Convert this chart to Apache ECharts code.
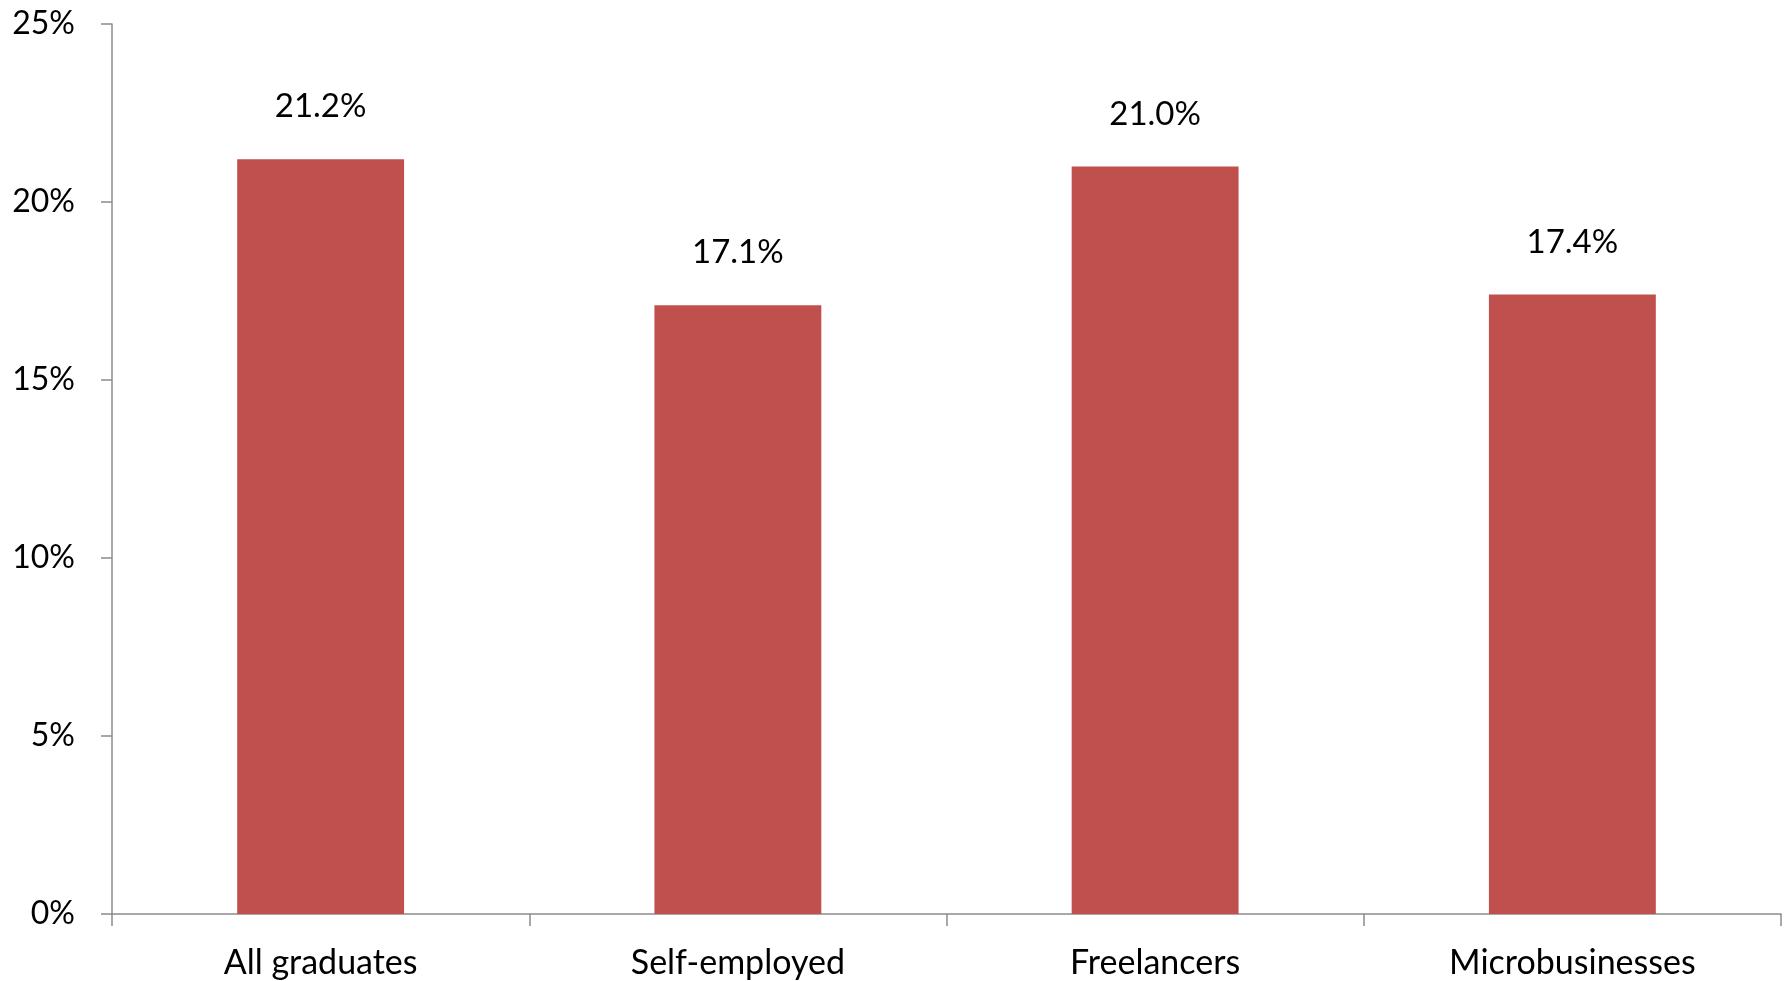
<!DOCTYPE html>
<html>
<head>
<meta charset="utf-8">
<script src="https://cdn.jsdelivr.net/npm/echarts@6/dist/echarts.min.js"></script>
<style>
html,body{margin:0;padding:0;background:#fff;}
#chart{width:1791px;height:981px;}
</style>
</head>
<body>
<div id="chart"></div>
<script>
const categories = ["All graduates", "Self-employed", "Freelancers", "Microbusinesses"];
const values = [21.2, 17.1, 21.0, 17.4];
const yTicks = [0, 5, 10, 15, 20, 25];

const chart = echarts.init(document.getElementById('chart'));
const font = 'Lato, "Open Sans", sans-serif';
chart.setOption({
  animation: false,
  grid: {left: 112, right: 10, top: 24, bottom: 67, containLabel: false},
  xAxis: {
    type: 'category',
    data: categories,
    boundaryGap: true,
    axisLine: {lineStyle: {color: '#8c8c8c', width: 1.5}},
    axisTick: {show: true, length: 12, lineStyle: {color: '#8c8c8c', width: 1.5}},
    axisLabel: {color: '#000', fontSize: 34, fontFamily: font, margin: 32}
  },
  yAxis: {
    type: 'value',
    min: yTicks[0],
    max: yTicks[yTicks.length - 1],
    interval: 5,
    splitLine: {show: false},
    axisLine: {show: true, lineStyle: {color: '#8c8c8c', width: 1.5}},
    axisTick: {show: true, length: 11, lineStyle: {color: '#8c8c8c', width: 1.5}},
    axisLabel: {color: '#000', fontSize: 32, fontFamily: font, margin: 37, formatter: v => v + '%'}
  },
  series: [{
    type: 'bar',
    data: values,
    barWidth: '40%',
    itemStyle: {color: '#C0504D'},
    label: {
      show: true,
      position: 'top',
      distance: 36,
      color: '#000',
      fontSize: 33,
      fontFamily: font,
      formatter: p => p.value.toFixed(1) + '%'
    }
  }]
});
</script>
</body>
</html>
